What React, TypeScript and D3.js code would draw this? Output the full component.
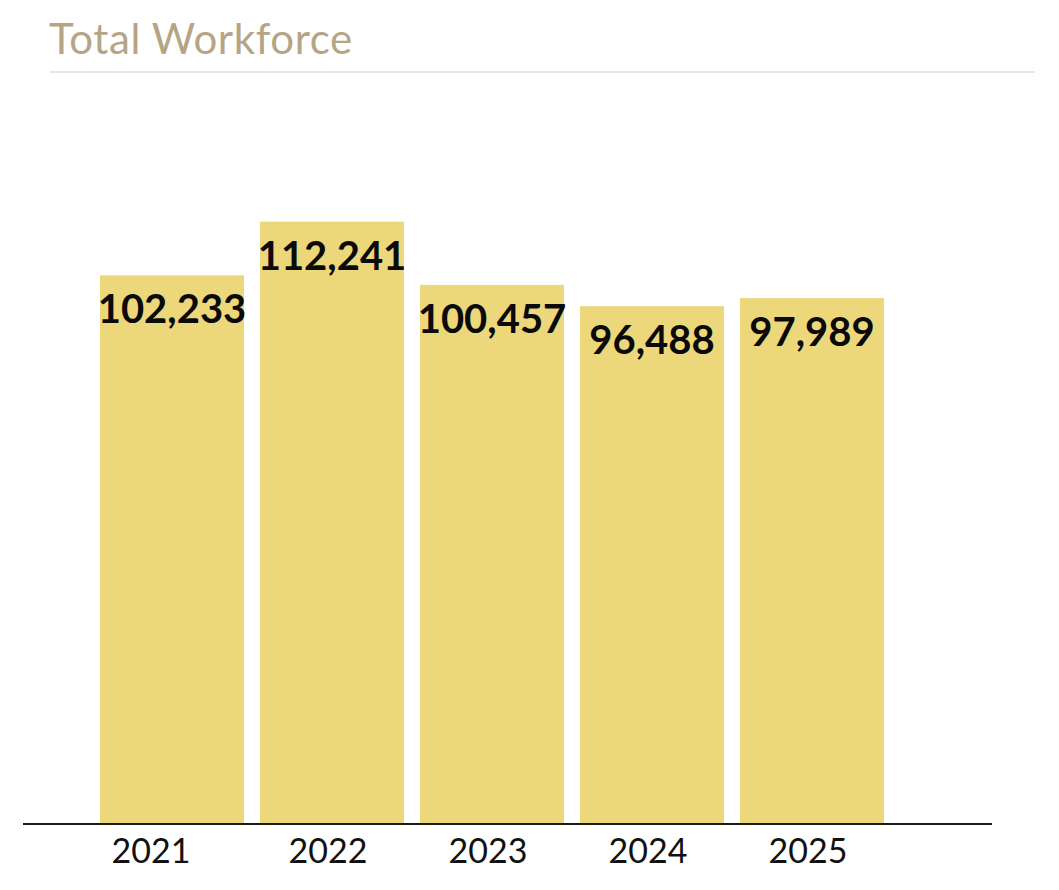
import { useEffect, useRef } from 'react'
import * as d3 from 'd3'

const YEARS = ['2021', '2022', '2023', '2024', '2025']
const WORKFORCE = [102233, 112241, 100457, 96488, 97989]
const TITLE = 'Total Workforce'

const W = 1059
const H = 890
const BASE = 824
const FONT = 'Lato, "Noto Sans", sans-serif'

export default function App() {
  const svgRef = useRef<SVGSVGElement>(null)

  useEffect(() => {
    const svg = d3.select(svgRef.current)
    svg.selectAll('*').remove()

    const x = d3.scaleBand<string>().domain(YEARS).range([92, 892]).paddingInner(0.1).paddingOuter(0.05)
    const y = d3.scaleLinear().domain([0, 120000]).range([BASE, 180])

    // title + rule
    svg.append('text').attr('x', 49).attr('y', 54).attr('fill', '#b5a584')
      .attr('font-family', FONT).attr('font-size', 42).attr('letter-spacing', 0.6).text(TITLE)
    svg.append('line').attr('x1', 50).attr('x2', 1035).attr('y1', 72).attr('y2', 72)
      .attr('stroke', '#e2ded4').attr('stroke-width', 1.5)

    // bars
    svg.append('g').selectAll('rect').data(WORKFORCE).join('rect')
      .attr('x', (_, i) => x(YEARS[i])!)
      .attr('width', x.bandwidth())
      .attr('y', (d) => y(d))
      .attr('height', (d) => BASE - y(d))
      .attr('fill', '#ecd77a')

    // value labels, inside top of bar
    svg.append('g').selectAll('text').data(WORKFORCE).join('text')
      .attr('x', (_, i) => x(YEARS[i])! + x.bandwidth() / 2)
      .attr('y', (d) => y(d) + 48)
      .attr('text-anchor', 'middle')
      .attr('font-family', FONT).attr('font-weight', 700).attr('font-size', 40)
      .attr('fill', '#0a0a0a')
      .text((d) => d3.format(',')(d))

    // x axis
    const ax = svg.append('g').attr('transform', `translate(0,${BASE})`)
      .call(d3.axisBottom(x).tickSize(0).tickPadding(15))
    ax.select('.domain').remove()
    ax.selectAll('.tick text').attr('font-family', FONT).attr('font-size', 34).attr('fill', '#111')
      .attr('dx', (_, i) => (i === 0 ? -21 : -4))
    svg.append('line').attr('x1', 23).attr('x2', 992).attr('y1', BASE).attr('y2', BASE)
      .attr('stroke', '#1a1a1a').attr('stroke-width', 2)
  }, [])

  return (
    <div style={{ position: 'absolute', left: 0, top: 0, background: '#fff' }}>
      <svg ref={svgRef} width={W} height={H} style={{ display: 'block' }} />
    </div>
  )
}
